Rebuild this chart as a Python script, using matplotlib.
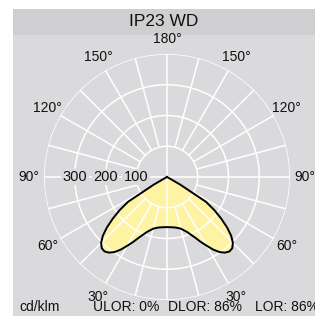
import numpy as np
import matplotlib.pyplot as plt
from matplotlib.patches import Rectangle

plt.rcParams['font.family'] = ['Liberation Sans', 'DejaVu Sans']

# luminous intensity (cd/klm), gamma measured from nadir, symmetric curve
gamma = [0, 5, 10, 15, 20, 25, 27.5, 30, 32.5, 35, 37.5, 40, 42.5, 45, 47.5, 50, 52.5, 55, 57.5,
         60, 62.5, 65, 70, 80, 90]
intensity = [163, 164, 167, 174, 190, 218, 238, 258, 280, 298, 310, 316, 314, 303, 283, 255, 222,
             188, 150, 50, 5, 0, 0, 0, 0]

ring_values = [100, 200, 300, 400]
ring_labels = ['100', '200', '300']
angle_labels = {30: '30°', 60: '60°', 90: '90°', 120: '120°', 150: '150°', 180: '180°'}
title = 'IP23 WD'
unit = 'cd/klm'
ratios = ['ULOR: 0%', 'DLOR: 86%', 'LOR: 86%']
ratio_x = [93, 168, 255]

W, H = 315, 316
fig = plt.figure(figsize=(W / 100, H / 100), dpi=100)
fig.patch.set_facecolor('white')

# grey panels (title band + plot area)
fig.patches.append(Rectangle((13 / W, 0), 1 - 13 / W, 1 - 35 / H, transform=fig.transFigure,
                             facecolor='#dadadc', edgecolor='none', zorder=-5))
fig.patches.append(Rectangle((13 / W, 1 - 35 / H), 1 - 13 / W, 26 / H, transform=fig.transFigure,
                             facecolor='#cfcfd1', edgecolor='none', zorder=-5))
fig.text(164 / W, 1 - 22 / H, title, ha='center', va='center', fontsize=12.5, color='#111111')

cx, cy, rad = 167, 177, 123
ax = fig.add_axes([(cx - rad) / W, (H - cy - rad) / H, 2 * rad / W, 2 * rad / H], projection='polar')
ax.set_theta_zero_location('S')
ax.set_ylim(0, 400)
ax.patch.set_visible(False)
ax.grid(False)
ax.set_xticks([])
ax.set_yticks([])
ax.spines['polar'].set_visible(False)

# full curve, both halves
g = np.radians(np.array(gamma))
I = np.array(intensity)
theta = np.concatenate([-g[::-1], g[1:]])
r = np.concatenate([I[::-1], I[1:]])
ax.fill(theta, r, color='#fdf3a3', zorder=1, lw=0)

# grid
circ = np.linspace(0, 2 * np.pi, 361)
for rv in ring_values:
    ax.plot(circ, np.full_like(circ, rv), color='white', lw=1.1, zorder=2)
for a in range(0, 360, 15):
    start = 0 if a % 90 == 0 else 100
    ax.plot([np.radians(a)] * 2, [start, 400], color='white', lw=1.1, zorder=2)

ax.plot(theta, r, color='black', lw=1.4, zorder=3, solid_joinstyle='round')

# angle labels
for a, lab in angle_labels.items():
    for s in ([1] if a == 180 else [1, -1]):
        ax.text(np.radians(s * a), 449, lab, ha='center', va='center', fontsize=10, color='#111111',
                clip_on=False)

for rv, lab in zip(ring_values, ring_labels):
    ax.text(np.radians(-90), rv, lab, ha='center', va='center', fontsize=10.5, color='#111111', zorder=4,
            bbox=dict(boxstyle='square,pad=0.1', fc='#dadadc', ec='none'))

fig.text(19 / W, 1 - 307 / H, unit, ha='left', va='center', fontsize=10, color='#111111')
for x, lab in zip(ratio_x, ratios):
    fig.text(x / W, 1 - 307 / H, lab, ha='left', va='center', fontsize=10, color='#111111')

fig.savefig('out.png', dpi=100)
